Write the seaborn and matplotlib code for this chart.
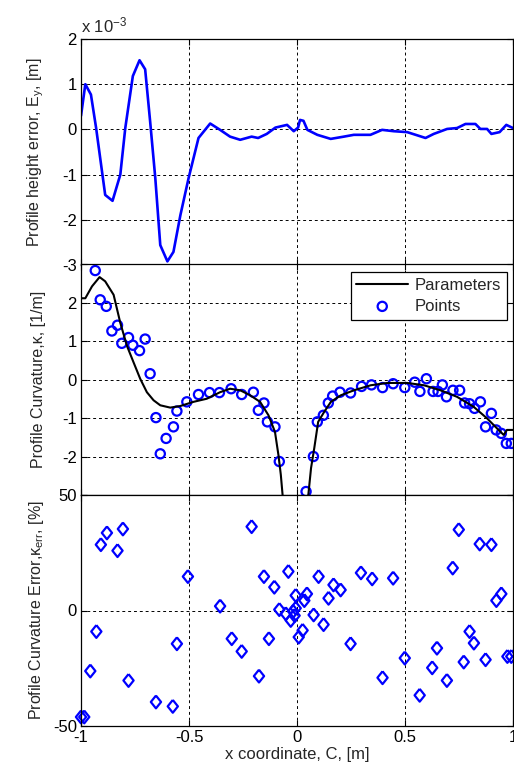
import matplotlib
matplotlib.use('Agg')
import matplotlib.pyplot as plt
import seaborn as sns
import numpy as np

# Profile height error along x, values in units of 1e-3 m
ey_x = [-1.0, -0.98, -0.954, -0.93, -0.888, -0.854, -0.818, -0.795, -0.76, -0.729,
        -0.703, -0.68, -0.656, -0.633, -0.6, -0.572, -0.54, -0.502, -0.456, -0.402,
        -0.356, -0.31, -0.263, -0.21, -0.18, -0.14, -0.1, -0.046, -0.015, 0.005,
        0.014, 0.03, 0.048, 0.094, 0.156, 0.217, 0.263, 0.34, 0.394, 0.448,
        0.51, 0.556, 0.595, 0.633, 0.695, 0.741, 0.78, 0.826, 0.849, 0.88,
        0.9, 0.938, 0.969, 1.0]
ey_val = [0.3, 1.0, 0.77, 0.03, -1.45, -1.58, -1.0, 0.03, 1.18, 1.53,
          1.33, 0.18, -1.08, -2.56, -2.92, -2.71, -1.9, -1.08, -0.19, 0.13,
          -0.01, -0.16, -0.23, -0.16, -0.19, -0.1, 0.04, 0.1, -0.04, 0.04,
          0.21, 0.19, -0.01, -0.12, -0.21, -0.16, -0.12, -0.12, -0.01, -0.04,
          -0.06, -0.13, -0.19, -0.1, 0.01, 0.03, 0.12, 0.12, 0.01, 0.01,
          -0.1, -0.06, 0.1, 0.03]

# Curvature computed from the fitted parameters [1/m]
par_x = [-1.0, -0.98, -0.949, -0.914, -0.888, -0.849, -0.818, -0.787, -0.757, -0.726,
         -0.695, -0.664, -0.633, -0.587, -0.541, -0.479, -0.418, -0.356, -0.31, -0.263,
         -0.217, -0.171, -0.132, -0.102, -0.086, -0.075, -0.062, -0.055,
         0.04, 0.047, 0.065, 0.08, 0.098, 0.126, 0.157, 0.203, 0.264, 0.341,
         0.418, 0.511, 0.588, 0.664, 0.741, 0.818, 0.88, 0.926, 0.957, 0.972, 1.0]
par_k = [2.11, 2.11, 2.42, 2.66, 2.55, 2.2, 1.47, 0.87, 0.45, 0.02,
         -0.33, -0.54, -0.67, -0.73, -0.69, -0.58, -0.5, -0.33, -0.24, -0.28,
         -0.41, -0.58, -0.93, -1.36, -1.96, -2.47, -3.3, -4.5,
         -4.5, -3.3, -2.3, -1.78, -1.1, -0.84, -0.58, -0.41, -0.28, -0.15,
         -0.09, -0.09, -0.15, -0.28, -0.45, -0.71, -1.01, -1.27, -1.44, -1.31, -1.31]

# Curvature computed from the measured points [1/m]
pts_x = [-0.934, -0.911, -0.883, -0.857, -0.831, -0.811, -0.78, -0.76, -0.729, -0.703,
         -0.68, -0.653, -0.633, -0.606, -0.572, -0.556, -0.51, -0.456, -0.405, -0.359,
         -0.305, -0.256, -0.202, -0.153, -0.179, -0.137, -0.102, -0.082, 0.042, 0.076,
         0.094, 0.122, 0.145, 0.165, 0.199, 0.248, 0.299, 0.345, 0.396, 0.445,
         0.499, 0.545, 0.569, 0.599, 0.63, 0.653, 0.673, 0.692, 0.722, 0.753,
         0.776, 0.799, 0.822, 0.849, 0.873, 0.9, 0.922, 0.946, 0.969, 0.992]
pts_k = [2.83, 2.07, 1.9, 1.26, 1.41, 0.94, 1.09, 0.89, 0.75, 1.05,
         0.15, -0.99, -1.93, -1.53, -1.23, -0.82, -0.58, -0.39, -0.34, -0.34,
         -0.24, -0.39, -0.33, -0.61, -0.8, -1.1, -1.23, -2.13, -2.91, -2.0,
         -1.1, -0.93, -0.61, -0.43, -0.33, -0.35, -0.18, -0.14, -0.21, -0.11,
         -0.21, -0.07, -0.31, 0.02, -0.31, -0.31, -0.14, -0.45, -0.28, -0.28,
         -0.61, -0.63, -0.75, -0.58, -1.23, -0.88, -1.31, -1.4, -1.66, -1.66]

# Curvature error [%]
err_x = [-1.0, -0.985, -0.957, -0.929, -0.908, -0.88, -0.831, -0.806, -0.78, -0.653,
         -0.575, -0.556, -0.505, -0.356, -0.302, -0.256, -0.21, -0.176, -0.153, -0.13,
         -0.105, -0.082, -0.04, -0.052, -0.029, -0.018, -0.011, -0.006, -0.006, 0.008,
         0.026, 0.046, 0.034, 0.077, 0.1, 0.123, 0.146, 0.169, 0.202, 0.248,
         0.296, 0.348, 0.396, 0.445, 0.499, 0.568, 0.626, 0.648, 0.694, 0.721,
         0.749, 0.772, 0.799, 0.819, 0.846, 0.873, 0.9, 0.923, 0.946, 0.974, 0.992]
err_val = [-46.1, -46.1, -26.2, -9.1, 28.5, 33.6, 25.9, 35.3, -30.3, -39.6,
           -41.5, -14.4, 14.7, 1.9, -12.2, -17.7, 36.3, -28.4, 14.7, -12.2,
           10.1, 0.4, 16.9, -1.4, -4.3, -0.4, -2.2, 1.0, 6.5, -11.5,
           -8.6, 7.2, 4.3, -1.9, 14.7, -6.1, 5.3, 11.1, 8.9, -14.4,
           16.3, 13.7, -29.1, 14.0, -20.6, -36.7, -24.8, -16.3, -30.3, 18.4,
           35.0, -22.3, -9.1, -14.1, 28.8, -21.3, 28.5, 4.3, 7.2, -19.9, -19.9]

x_ticks = [-1, -0.5, 0, 0.5, 1]
x_tick_labels = ["-1", "-0.5", "0", "0.5", "1"]
ey_ticks = [-3, -2, -1, 0, 1, 2]
k_ticks = [-3, -2, -1, 0, 1, 2, 3]
k_tick_labels = ["", "-2", "-1", "0", "1", "2", ""]
err_ticks = [-50, 0, 50]

sns.set_style("ticks")
plt.rcParams['font.family'] = ['Liberation Sans', 'DejaVu Sans']
plt.rcParams['mathtext.fontset'] = 'custom'
plt.rcParams['mathtext.rm'] = 'Liberation Sans'
plt.rcParams['mathtext.it'] = 'Liberation Sans:italic'
plt.rcParams['axes.unicode_minus'] = False

fig = plt.figure(figsize=(5.14, 7.71), dpi=100)
left, width = 81 / 514, 432 / 514
ax1 = fig.add_axes([left, 1 - 265 / 771, width, 226 / 771])
ax2 = fig.add_axes([left, 1 - 495 / 771, width, 231 / 771])
ax3 = fig.add_axes([left, 1 - 726 / 771, width, 231 / 771])

blue = (0, 0, 1)

# top: height error
sns.lineplot(x=ey_x, y=ey_val, ax=ax1, color=blue, linewidth=1.9, estimator=None, sort=False)
ax1.set_ylim(-3, 2)
ax1.set_yticks(ey_ticks)
ax1.set_yticklabels([str(t) for t in ey_ticks])
ax1.text(0.0, 1.015, r"x 10$^{\mathregular{-3}}$", transform=ax1.transAxes,
         fontsize=12, ha='left', va='bottom')
ax1.set_ylabel(r"Profile height error, E$_{\mathregular{y}}$, [m]", fontsize=11.5)

# middle: curvature
sns.lineplot(x=par_x, y=par_k, ax=ax2, color='black', linewidth=1.5,
             estimator=None, sort=False, label="Parameters")
sns.scatterplot(x=pts_x, y=pts_k, ax=ax2, marker='o', s=44, facecolors='none',
                edgecolor=blue, linewidth=1.6, label="Points", clip_on=False)
ax2.set_ylim(-3, 3)
ax2.set_yticks(k_ticks)
ax2.set_yticklabels(k_tick_labels)
ax2.set_ylabel("Profile Curvature,κ, [1/m]", fontsize=11.5)
leg = ax2.legend(loc='upper right', bbox_to_anchor=(0.986, 0.965), fontsize=12,
                 fancybox=False, framealpha=1, edgecolor='black', handlelength=3.1,
                 handletextpad=0.4, labelspacing=0.35, borderpad=0.35, borderaxespad=0)
leg.get_frame().set_linewidth(0.9)

# bottom: curvature error
diamond = [(0, 1), (0.8, 0), (0, -1), (-0.8, 0), (0, 1)]
sns.scatterplot(x=err_x, y=err_val, ax=ax3, marker=diamond, s=85, facecolors='none',
                edgecolor=blue, linewidth=1.6, clip_on=False)
ax3.set_ylim(-50, 50)
ax3.set_yticks(err_ticks)
ax3.set_yticklabels([str(t) for t in err_ticks])
ax3.set_ylabel(r"Profile Curvature Error,κ$_{\mathregular{err}}$, [%]", fontsize=11.5)
ax3.set_xlabel("x coordinate, C, [m]", fontsize=12, labelpad=1)

for ax in (ax1, ax2, ax3):
    ax.set_xlim(-1, 1)
    ax.set_xticks(x_ticks)
    ax.set_xticklabels(x_tick_labels)
    ax.set_facecolor('white')
    ax.set_axisbelow(True)
    ax.grid(True, color='black', linestyle=(0, (3, 3)), linewidth=0.7)
    ax.tick_params(direction='in', top=True, right=True, length=4, width=0.8,
                   labelsize=12, pad=3, colors='black')
    for sp in ax.spines.values():
        sp.set_visible(True)
        sp.set_color('black')
        sp.set_linewidth(0.9)
    ax.yaxis.set_label_coords(-0.082, 0.5)

ax1.tick_params(labelbottom=False)
ax2.tick_params(labelbottom=False)

fig.savefig("out.png", dpi=100, facecolor='white')
